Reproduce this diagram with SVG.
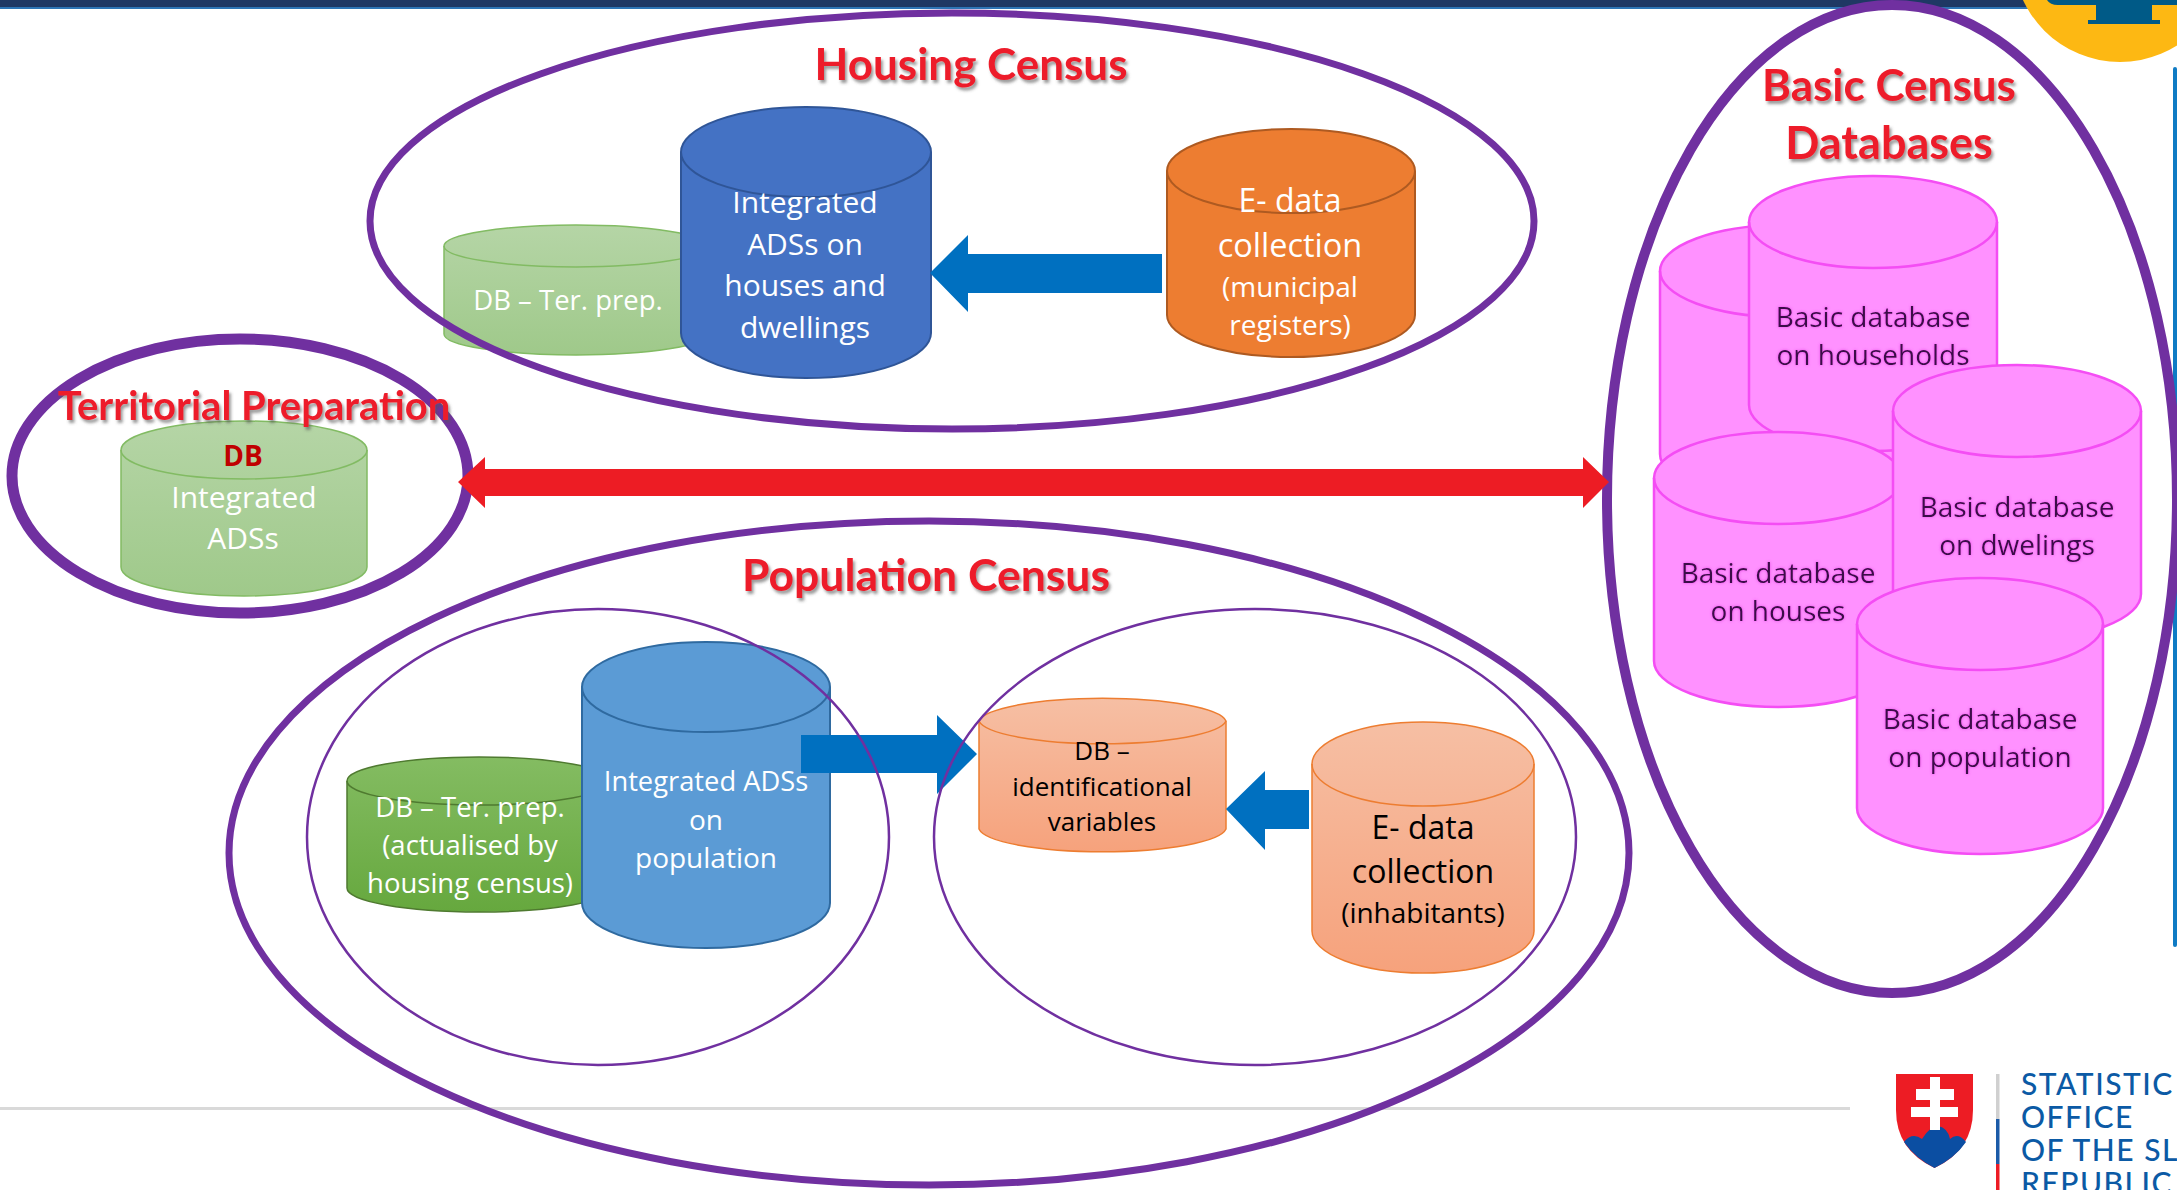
<svg xmlns="http://www.w3.org/2000/svg" width="2177" height="1190" viewBox="0 0 2177 1190">
<style>
.ring{fill:none;stroke:#7030a0}
.t{font-family:"Open Sans","Liberation Sans",sans-serif;text-anchor:middle}
.w{fill:#fff}.k{fill:#000}
.h{font-family:Lato,"Liberation Sans",sans-serif;font-weight:700;fill:#ed1c2c;text-anchor:middle;filter:url(#sh)}
.p{fill:#ff91ff;stroke:#f44df4;stroke-width:2.5}
.pt{font-family:"Open Sans","Liberation Sans",sans-serif;text-anchor:middle;font-size:28px;fill:#3b0a4a;filter:url(#gl)}
.lg{font-family:Lato,"Liberation Sans",sans-serif;font-size:30px;fill:#0b5aa5;font-weight:500;letter-spacing:1.5px}
</style>
<defs>
<filter id="sh" x="-5%" y="-10%" width="110%" height="130%"><feDropShadow dx="2" dy="3" stdDeviation="1.5" flood-color="#555" flood-opacity=".6"/></filter>
<filter id="gl" x="-5%" y="-10%" width="110%" height="120%"><feDropShadow dx="0" dy="0" stdDeviation="1.5" flood-color="#e040e0" flood-opacity=".9"/></filter>
<linearGradient id="gl1" x1="0" y1="0" x2="0" y2="1"><stop offset="0" stop-color="#b5d5a6"/><stop offset="1" stop-color="#9fc98a"/></linearGradient>
<linearGradient id="gd" x1="0" y1="0" x2="0" y2="1"><stop offset="0" stop-color="#84bc62"/><stop offset="1" stop-color="#66a83e"/></linearGradient>
<linearGradient id="sa" x1="0" y1="0" x2="0" y2="1"><stop offset="0" stop-color="#f6bfa4"/><stop offset="1" stop-color="#f6a27c"/></linearGradient>
</defs>

<rect x="0" y="0" width="2177" height="7" fill="#1f3864"/>
<rect x="0" y="7" width="2177" height="2" fill="#2e75b6"/>
<rect x="0" y="1107" width="1850" height="3" fill="#d9d9d9"/>
<rect x="2173" y="67" width="4" height="880" rx="2" fill="#0f7bc4"/>

<g id="emblem">
<circle cx="2120" cy="-45" r="107" fill="#fdb813"/>
<path d="M2047 0H2177V5H2152V20H2160V24H2088V20H2096V5H2058Q2050 5 2047 0Z" fill="#005a87"/>
</g>

<g id="territorial-ring">
<ellipse class="ring" cx="240" cy="476" rx="228" ry="137" stroke-width="11"/>
</g>
<g id="basic-ring">
<ellipse class="ring" cx="1892" cy="499" rx="285" ry="494" stroke-width="10"/>
</g>

<g id="db-integrated-adss">
<path d="M121 450A123 29 0 0 1 367 450V567A123 29 0 0 1 121 567Z" fill="url(#gl1)" stroke="#82bb63" stroke-width="1.5"/>
<path d="M121 450A123 29 0 0 0 367 450" fill="none" stroke="#82bb63" stroke-width="1.5"/>
<text class="t" x="243" y="466" font-size="28" font-weight="700" fill="#c00000">DB</text>
<text class="t w" x="244" y="508" font-size="30">Integrated</text>
<text class="t w" x="243" y="549" font-size="30">ADSs</text>
</g>
<g id="territorial-title"><text class="h" x="254" y="420" font-size="40">Territorial Preparation</text></g>

<g id="housing-census">
<path d="M444 246A132 21 0 0 1 708 246V334A132 21 0 0 1 444 334Z" fill="url(#gl1)" stroke="#82bb63" stroke-width="1.5"/>
<path d="M444 246A132 21 0 0 0 708 246" fill="none" stroke="#82bb63" stroke-width="1.5"/>
<text class="t w" x="568" y="310" font-size="27.500">DB – Ter. prep.</text>
<path d="M681 152A125 45 0 0 1 931 152V333A125 45 0 0 1 681 333Z" fill="#4472c4" stroke="#2f5597" stroke-width="2"/>
<path d="M681 152A125 45 0 0 0 931 152" fill="none" stroke="#2f5597" stroke-width="2"/>
<text class="t w" x="805" y="213" font-size="30">Integrated</text>
<text class="t w" x="805" y="255" font-size="30">ADSs on</text>
<text class="t w" x="805" y="296" font-size="30">houses and</text>
<text class="t w" x="805" y="338" font-size="30">dwellings</text>
<path d="M1167 171A124 42 0 0 1 1415 171V315A124 42 0 0 1 1167 315Z" fill="#ed7d31" stroke="#ae5a21" stroke-width="2"/>
<path d="M1167 171A124 42 0 0 0 1415 171" fill="none" stroke="#ae5a21" stroke-width="2"/>
<text class="t w" x="1290" y="212" font-size="32">E- data</text>
<text class="t w" x="1290" y="257" font-size="32.500">collection</text>
<text class="t w" x="1290" y="297" font-size="28">(municipal</text>
<text class="t w" x="1290" y="335" font-size="28">registers)</text>
<text class="h" x="971" y="80" font-size="44">Housing Census</text>
</g>

<g id="population-census">
<path d="M347 781A132 24 0 0 1 611 781V888A132 24 0 0 1 347 888Z" fill="url(#gd)" stroke="#4f7a30" stroke-width="1.5"/>
<path d="M347 781A132 24 0 0 0 611 781" fill="none" stroke="#4f7a30" stroke-width="1.5"/>
<text class="t w" x="470" y="817" font-size="27.500">DB – Ter. prep.</text>
<text class="t w" x="470" y="855" font-size="27.500">(actualised by</text>
<text class="t w" x="470" y="893" font-size="27.500">housing census)</text>
<path d="M582 687A124 45 0 0 1 830 687V903A124 45 0 0 1 582 903Z" fill="#5b9bd5" stroke="#2f6aa0" stroke-width="2"/>
<path d="M582 687A124 45 0 0 0 830 687" fill="none" stroke="#2f6aa0" stroke-width="2"/>
<text class="t w" x="706" y="791" font-size="27.300">Integrated ADSs</text>
<text class="t w" x="706" y="830" font-size="28">on</text>
<text class="t w" x="706" y="868" font-size="28">population</text>
<path d="M979 721A124 25 0 0 1 1226 721V829A124 25 0 0 1 979 829Z" fill="url(#sa)" stroke="#ed7d31" stroke-width="1.5"/>
<path d="M979 721A124 25 0 0 0 1226 721" fill="none" stroke="#ed7d31" stroke-width="1.5"/>
<text class="t k" x="1102" y="760" font-size="26">DB –</text>
<text class="t k" x="1102" y="796" font-size="26">identificational</text>
<text class="t k" x="1102" y="831" font-size="26">variables</text>
<path d="M1312 764A111 42 0 0 1 1534 764V931A111 42 0 0 1 1312 931Z" fill="url(#sa)" stroke="#ed7d31" stroke-width="1.5"/>
<path d="M1312 764A111 42 0 0 0 1534 764" fill="none" stroke="#ed7d31" stroke-width="1.5"/>
<text class="t k" x="1423" y="839" font-size="32">E- data</text>
<text class="t k" x="1423" y="883" font-size="32">collection</text>
<text class="t k" x="1423" y="923" font-size="28">(inhabitants)</text>
<text class="h" x="926" y="591" font-size="44.500">Population Census</text>
</g>

<g id="basic-census-databases">
<path class="p" d="M1660 271A124 46 0 0 1 1908 271V454A124 46 0 0 1 1660 454Z"/>
<path class="p" style="fill:none" d="M1660 271A124 46 0 0 0 1908 271"/>
<path class="p" d="M1749 222A124 46 0 0 1 1997 222V405A124 46 0 0 1 1749 405Z"/>
<path class="p" style="fill:none" d="M1749 222A124 46 0 0 0 1997 222"/>
<text class="pt" x="1873" y="327">Basic database</text>
<text class="pt" x="1873" y="365">on households</text>
<path class="p" d="M1654 478A124 46 0 0 1 1902 478V661A124 46 0 0 1 1654 661Z"/>
<path class="p" style="fill:none" d="M1654 478A124 46 0 0 0 1902 478"/>
<text class="pt" x="1778" y="583">Basic database</text>
<text class="pt" x="1778" y="621">on houses</text>
<path class="p" d="M1893 411A124 46 0 0 1 2141 411V594A124 46 0 0 1 1893 594Z"/>
<path class="p" style="fill:none" d="M1893 411A124 46 0 0 0 2141 411"/>
<text class="pt" x="2017" y="517">Basic database</text>
<text class="pt" x="2017" y="555">on dwelings</text>
<path class="p" d="M1857 624A123 46 0 0 1 2103 624V808A123 46 0 0 1 1857 808Z"/>
<path class="p" style="fill:none" d="M1857 624A123 46 0 0 0 2103 624"/>
<text class="pt" x="1980" y="729">Basic database</text>
<text class="pt" x="1980" y="767">on population</text>
<text class="h" x="1889" y="101" font-size="44">Basic Census</text>
<text class="h" x="1889" y="159" font-size="45">Databases</text>
</g>

<g id="connectors">
<path d="M930 273L968 235V254H1162V293H968V312Z" fill="#0070c0"/>
<path d="M458 482L485 457V469H1583V457L1609 482L1583 508V496H485V508Z" fill="#ed1c24"/>
<path d="M801 735H937V715L977 754L937 794V773H801Z" fill="#0070c0"/>
<path d="M1226 809L1265 771V790H1309V829H1265V850Z" fill="#0070c0"/>
</g>

<g id="census-rings">
<ellipse class="ring" cx="952" cy="221" rx="582" ry="208" stroke-width="7"/>
<ellipse class="ring" cx="929" cy="853" rx="700" ry="332" stroke-width="7"/>
<ellipse class="ring" cx="598" cy="837" rx="291" ry="228" stroke-width="2.5"/>
<ellipse class="ring" cx="1255" cy="837" rx="321" ry="228" stroke-width="2.5"/>
</g>

<g id="logo">
<path d="M1896 1074H1973V1110Q1973 1150 1934.500 1168Q1896 1150 1896 1110Z" fill="#ed1c24"/>
<path d="M1904 1142Q1912 1132 1922 1139Q1930 1126 1938 1126Q1948 1128 1950 1139Q1958 1132 1966 1142Q1955 1158 1934.500 1168Q1915 1158 1904 1142Z" fill="#0b4ea2"/>
<path d="M1930 1077H1940V1089H1954V1100H1940V1107H1958V1117H1940V1130H1930V1117H1911V1107H1930V1100H1916V1089H1930Z" fill="#fff"/>
<rect x="1996" y="1074" width="3.500" height="45" fill="#d0d0d0"/>
<rect x="1996" y="1119" width="3.500" height="45" fill="#1c5ba8"/>
<rect x="1996" y="1164" width="3.500" height="26" fill="#ed1c24"/>
<text class="lg" x="2021" y="1095">STATISTIC</text>
<text class="lg" x="2021" y="1128">OFFICE</text>
<text class="lg" x="2021" y="1161">OF THE SL</text>
<text class="lg" x="2021" y="1194">REPUBLIC</text>
</g>
</svg>
